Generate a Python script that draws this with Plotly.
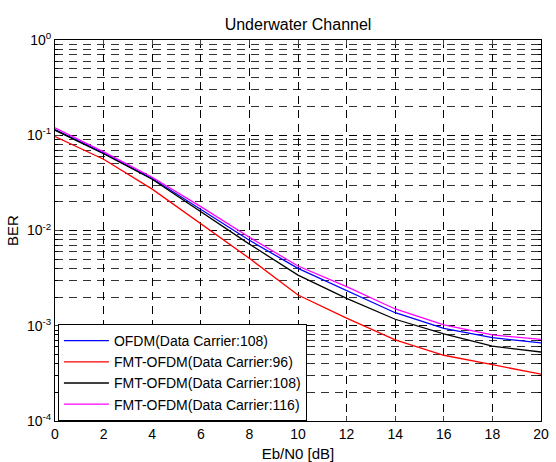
import plotly.graph_objects as go

eb_n0 = [0, 2, 4, 6, 8, 10, 12, 14, 16, 18, 20]
ofdm_108 = [0.115, 0.065, 0.0352, 0.0166, 0.0079, 0.0040, 0.00233, 0.00137, 0.00094, 0.00075, 0.00066]
fmt_96 = [0.097, 0.056, 0.0272, 0.0119, 0.0051, 0.0021, 0.0012, 0.00071, 0.00049, 0.00039, 0.00031]
fmt_108 = [0.113, 0.064, 0.0345, 0.0157, 0.0072, 0.0034, 0.00194, 0.00117, 0.00082, 0.00061, 0.00053]
fmt_116 = [0.120, 0.067, 0.0362, 0.0178, 0.0085, 0.00424, 0.00257, 0.00150, 0.00102, 0.00080, 0.00072]

series_names = ["OFDM(Data Carrier:108)", "FMT-OFDM(Data Carrier:96)",
                "FMT-OFDM(Data Carrier:108)", "FMT-OFDM(Data Carrier:116)"]
series_values = [ofdm_108, fmt_96, fmt_108, fmt_116]
series_colors = ["#0000ff", "#ff0000", "#000000", "#ff00ff"]

x_ticks = [0, 2, 4, 6, 8, 10, 12, 14, 16, 18, 20]
y_decades = [-4, -3, -2, -1, 0]

FONT = "Liberation Sans, Arial, sans-serif"

fig = go.Figure()
for name, vals, col in zip(series_names, series_values, series_colors):
    fig.add_trace(go.Scatter(x=eb_n0, y=vals, mode="lines", name=name,
                             line=dict(color=col, width=1.3)))

y_major = [10.0 ** d for d in y_decades]
y_text = ["10<sup>%d</sup>" % d for d in y_decades]
y_minor = [m * 10.0 ** d for d in y_decades[:-1] for m in range(2, 10)]

dash = "8px,6px"
fig.update_layout(
    width=556, height=462,
    margin=dict(l=55, r=15, t=40, b=41),
    paper_bgcolor="white", plot_bgcolor="white",
    font=dict(family=FONT, size=13, color="black"),
    title=dict(text="Underwater Channel", x=0.536, xanchor="center",
               y=0.947, yanchor="middle", font=dict(size=16)),
    showlegend=True,
    legend=dict(x=0.006, y=0.0, xanchor="left", yanchor="bottom",
                bgcolor="white", bordercolor="black", borderwidth=1,
                font=dict(size=14), tracegroupgap=0, itemwidth=45),
    xaxis=dict(range=[0, 20], tickvals=x_ticks, ticks="inside", ticklen=5,
               showline=True, linecolor="black", linewidth=1, mirror="ticks",
               showgrid=True, gridcolor="black", gridwidth=1, griddash=dash,
               zeroline=False, tickfont=dict(size=14), automargin=False,
               title=dict(text="Eb/N0 [dB]", font=dict(size=15), standoff=8)),
    yaxis=dict(type="log", range=[-4, 0], tickvals=y_major, ticktext=y_text,
               ticks="inside", ticklen=5, automargin=False,
               showline=True, linecolor="black", linewidth=1, mirror="ticks",
               showgrid=True, gridcolor="black", gridwidth=1, griddash=dash,
               zeroline=False, tickfont=dict(size=14),
               minor=dict(tickmode="array", tickvals=y_minor, ticks="inside",
                          ticklen=3, tickcolor="black", showgrid=True,
                          gridcolor="#333333", gridwidth=1, griddash=dash),
               title=dict(text="BER", font=dict(size=15), standoff=4)),
)

fig.write_html("out.html")
